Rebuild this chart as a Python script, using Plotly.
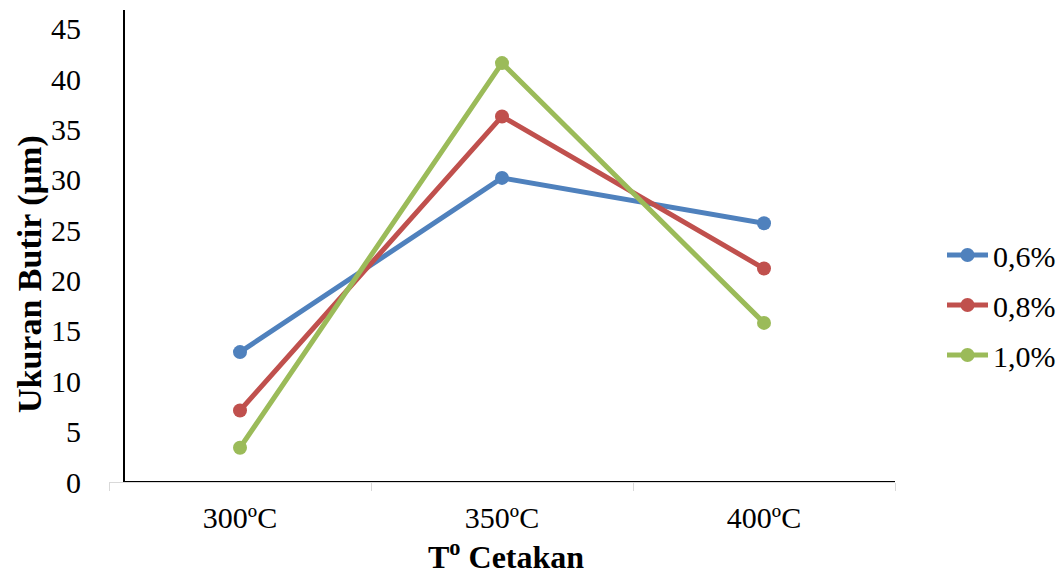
import plotly.graph_objects as go

categories = ["300ºC", "350ºC", "400ºC"]
series_names = ["0,6%", "0,8%", "1,0%"]
values_06 = [12.9, 30.2, 25.7]
values_08 = [7.1, 36.3, 21.2]
values_10 = [3.4, 41.6, 15.8]
colors = ["#4F81BD", "#C0504D", "#9BBB59"]
y_ticks = [0, 5, 10, 15, 20, 25, 30, 35, 40, 45]

W, H = 1064, 577
FONT = "Liberation Serif"

fig = go.Figure()
for name, vals, col in zip(series_names, [values_06, values_08, values_10], colors):
    fig.add_trace(go.Scatter(
        x=categories, y=vals, name=name, mode="lines+markers",
        line=dict(color=col, width=5),
        marker=dict(color=col, size=14),
        legendgroup=name,
    ))

x0_px, x1_px = 109, 895
yaxis_px = 124
y_bottom_px, y_top_px = 482, 10
y_max = (y_bottom_px - y_top_px) / 10.07

fig.update_layout(
    width=W, height=H,
    margin=dict(l=0, r=0, t=0, b=0),
    paper_bgcolor="white", plot_bgcolor="white",
    font=dict(family=FONT, size=30, color="black"),
    showlegend=True,
    legend=dict(
        x=942 / W, y=1 - 305 / H, xanchor="left", yanchor="middle",
        font=dict(family=FONT, size=30, color="black"),
        traceorder="grouped", tracegroupgap=8, itemwidth=41,
        bgcolor="rgba(0,0,0,0)",
    ),
    xaxis=dict(
        domain=[x0_px / W, x1_px / W],
        type="category", range=[-0.5, 2.5],
        showgrid=False, zeroline=False,
        showline=True, linecolor="#d9d9d9", linewidth=1,
        ticks="outside", tickson="boundaries", ticklen=8, tickcolor="#d9d9d9", tickwidth=1,
        tickfont=dict(family=FONT, size=30, color="black"),
        ticklabelstandoff=9,
        automargin=False,
    ),
    yaxis=dict(
        domain=[1 - y_bottom_px / H, 1 - y_top_px / H],
        range=[0, y_max],
        anchor="free", position=yaxis_px / W,
        tickvals=y_ticks,
        showgrid=False, zeroline=False,
        showline=True, linecolor="black", linewidth=2,
        ticks="", ticklabelstandoff=36,
        tickfont=dict(family=FONT, size=30, color="black"),
        automargin=False,
    ),
)

# black horizontal axis line from the y axis to the right end
fig.add_shape(type="line", xref="paper", yref="y",
              x0=yaxis_px / W, x1=x1_px / W, y0=0, y1=0,
              line=dict(color="black", width=2), layer="above")

fig.add_annotation(text="<b>T<sup>o</sup> Cetakan</b>", xref="paper", yref="paper",
                   x=506 / W, y=1 - 555 / H, showarrow=False,
                   font=dict(family=FONT, size=32, color="black"),
                   xanchor="center", yanchor="middle")
fig.add_annotation(text="<b>Ukuran Butir (µm)</b>", xref="paper", yref="paper",
                   x=30 / W, y=1 - 274 / H, showarrow=False, textangle=-90,
                   font=dict(family=FONT, size=34, color="black"),
                   xanchor="center", yanchor="middle")

fig.write_html("out.html")
